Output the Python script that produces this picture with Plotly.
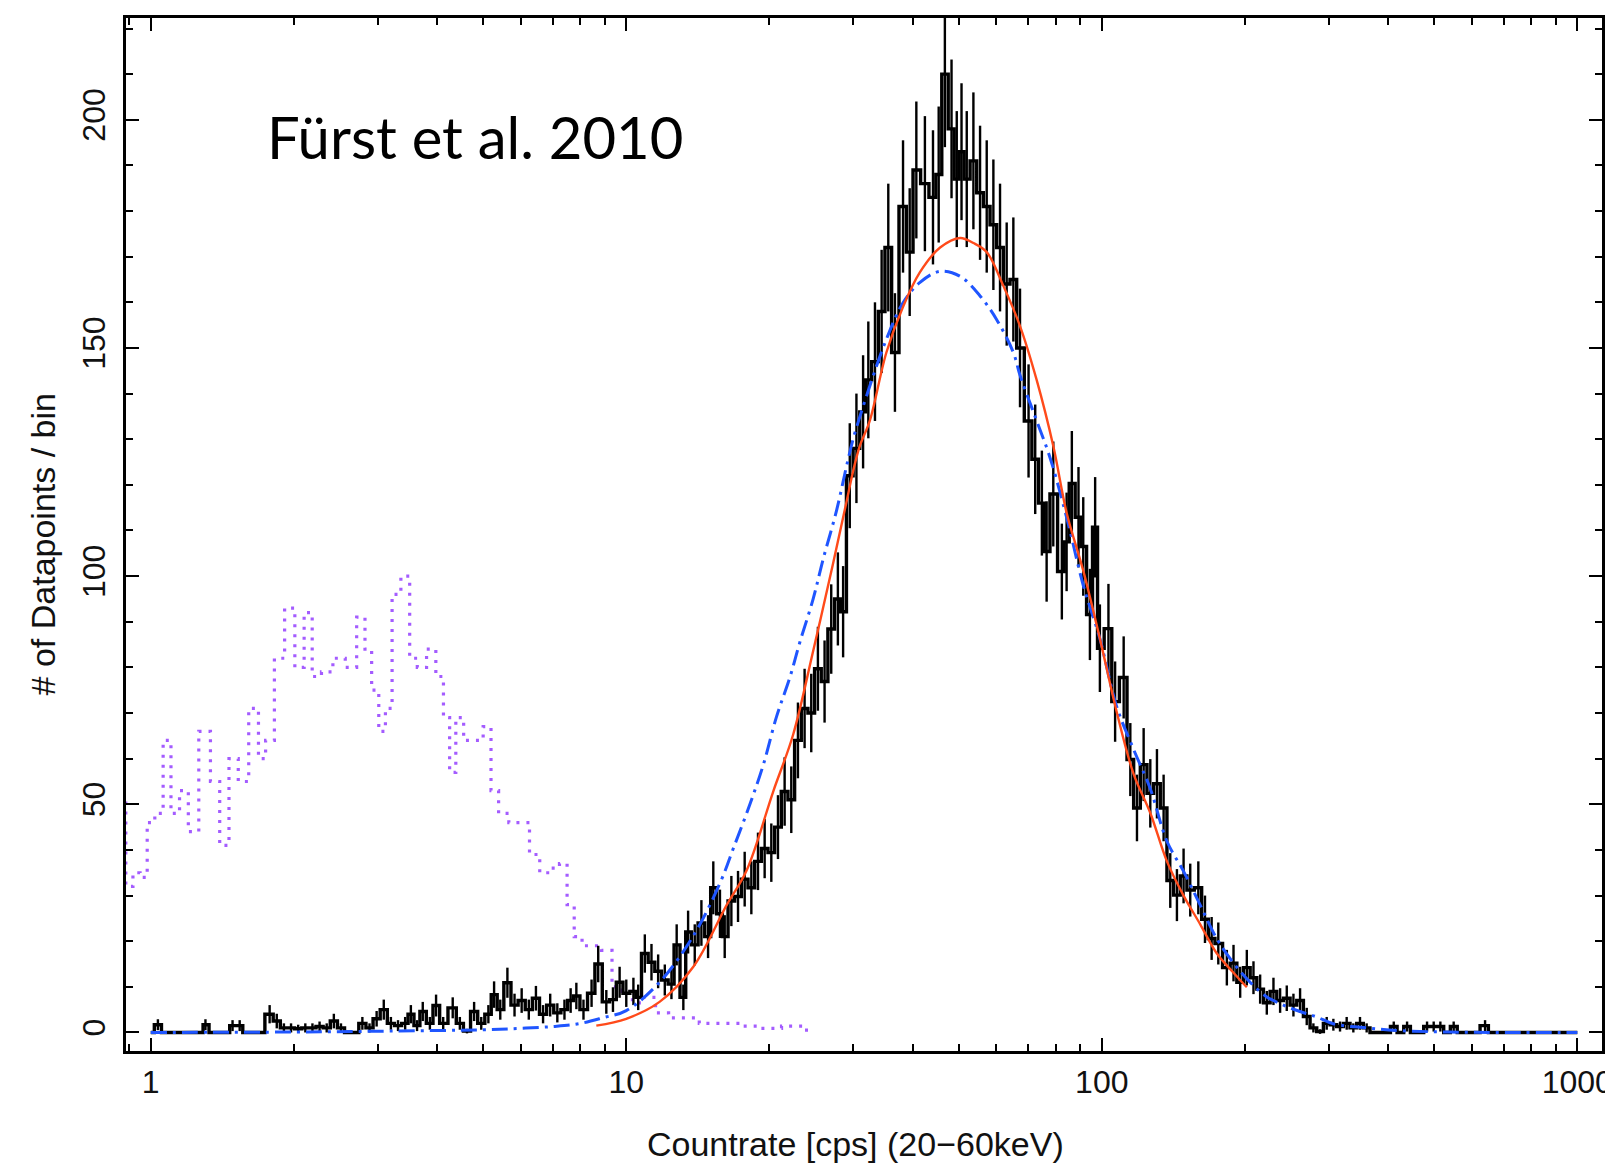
import numpy as np
import plotly.graph_objects as go

# ---------------- data ----------------
# Black: observed histogram (log10 of countrate at bin centre, counts, error)
black_log = [0.000,0.015,0.030,0.045,0.060,0.075,0.090,0.105,0.115,0.130,0.145,0.160,0.172,0.187,0.200,0.215,0.230,
             0.250,0.265,0.280,0.295,0.310,0.325,0.340,0.355,0.370,0.385,0.400,0.415,0.430,0.445,0.460,0.475,0.490,
             0.505,0.520,0.535,0.547,0.560,0.572,0.587,0.600,0.615,0.635,0.650,0.665,0.680,0.695,0.710,0.722,0.735,
             0.750,0.765,0.780,0.795,0.810,0.825,0.840,0.855,0.870,0.883,0.895,0.910,0.927,0.941,0.958,0.972,0.986,
             1.000,1.015,1.025,1.039,1.053,1.067,1.081,1.095,1.106,1.120,1.130,1.144,1.158,1.172,1.183,1.197,1.207,
             1.221,1.235,1.249,1.263,1.277,1.291,1.305,1.319,1.333,1.347,1.361,1.375,1.389,1.403,1.417,1.431,1.445,
             1.456,1.470,1.484,1.498,1.509,1.523,1.537,1.551,1.565,1.582,1.596,1.610,1.628,1.645,1.657,1.670,1.684,
             1.695,1.705,1.716,1.730,1.744,1.758,1.772,1.786,1.800,1.814,1.828,1.846,1.860,1.874,1.884,1.898,1.916,
             1.926,1.937,1.951,1.961,1.975,1.986,1.996,2.014,2.028,2.046,2.060,2.074,2.088,2.102,2.116,2.130,2.144,
             2.158,2.172,2.186,2.203,2.217,2.231,2.245,2.263,2.277,2.291,2.305,2.319,2.333,2.347,2.361,2.375,2.389,
             2.403,2.417,2.431,2.445,2.459,2.473,2.487,2.501,2.515,2.529,2.543,2.557,2.571,2.585,2.600,2.614,2.628,
             2.642,2.656,2.670,2.684,2.698,2.712,2.726,2.740,2.755,2.770,2.785,2.806,2.820,2.835,2.850,2.865,2.880,
             2.895,2.910,2.925,2.940,2.955,2.970,2.985,3.000]
black_counts = [0,1.7,0,0,0,0,0,0,1.7,0,0,0,1.5,1.5,0,0,0,
                4,2.5,1,1,0.8,1,1,1.3,1,2.5,1,0,0,2,1,3,5,
                2,1.5,2,4,1.5,4.6,2,5.9,2,5.4,2,0.3,4.6,2,4,8.3,5,
                10.9,6,7,5,7.5,4,6,4.3,5,7,8,5,8.6,15,6.7,7.2,11,
                8.6,9,7.7,17.3,15.4,13.4,11.5,10.6,19.2,7.7,22,19.2,24,21,31.7,26,21,
                28.8,29.8,33.6,31.7,37.5,40.3,39.4,45,52.8,51,64,71,70,79.7,76.9,88.4,95,
                92.2,122,128,136,143,147,158,172,149,181,171,189,186,183,188,210,198,
                187,193,187,191,184,181,177,172,164,165,150,134,125.6,116,105.4,118,101,
                107.5,120.3,112.9,106.5,91.6,110.7,84.2,88.5,72.5,77.8,59.8,49.2,58.7,52.4,54.5,49.2,33.3,
                30.1,34.3,31.2,31.7,24.8,20.6,19.5,14.2,15.2,11,14.2,12,9.5,6.5,9,7,7.5,
                6,7,3.5,1,0.2,2,1.7,1.3,2,1,2,1,0,0,0,1.3,0,
                1.3,0,0,1.3,1.3,1.3,0,1.3,0,0,0,1.5,0,0,0,0,0,
                0,0,0,0,0,0,0,0]
black_err = [0,1.2,0,0,0,0,0,0,1.2,0,0,0,1.2,1.2,0,0,0,
             2,1.6,1,1,0.9,1,1,1.1,1,1.6,1,0,0,1.4,1,1.7,2.2,
             1.4,1.2,1.4,2,1.2,2.1,1.4,2.4,1.4,2.3,1.4,0.5,2.1,1.4,2,2.9,2.2,
             3.3,2.5,2.7,2.2,2.7,2,2.5,2.1,2.2,2.7,2.9,2.2,3,4,2.6,2.7,3.4,
             3,3,2.8,4.2,4,3.7,3.4,3.3,4.5,2.8,4.7,4.5,5,4.7,5.8,5.3,4.7,
             5.5,5.6,6,5.8,6.3,6.5,6.4,7,7.5,7.3,8.3,8.7,8.6,9.2,9,9.8,10.2,
             10,11.5,12,12.4,12.8,13,13.5,14,13,14.5,14,15,14.8,14.7,14.9,16,15.2,
             14.9,15,14.9,15,14.7,14.5,14.3,14,13.5,13.6,13,12.4,12,11.5,11,11.5,10.5,
             10.8,11.5,11,10.8,10,11,9.6,9.8,8.8,9,8,7.3,8,7.5,7.6,7.3,6,
             5.7,6,5.8,5.8,5.2,4.7,4.6,3.9,4,3.4,3.9,3.6,3.2,2.6,3,2.7,2.8,
             2.5,2.7,1.9,1,0.5,1.4,1.3,1.1,1.4,1,1.4,1,0,0,0,1.1,0,
             1.1,0,0,1.1,1.1,1.1,0,1.1,0,0,0,1.2,0,0,0,0,0,
             0,0,0,0,0,0,0,0]

# Purple dotted histogram (log10 countrate, counts)
purple_log = [-0.060,-0.045,-0.030,-0.015,0.000,0.017,0.035,0.050,0.071,0.087,0.115,0.136,0.154,0.175,0.193,
              0.219,0.234,0.249,0.271,0.292,0.314,0.331,0.348,0.370,0.396,0.422,0.444,0.457,0.472,0.487,0.500,
              0.515,0.537,0.552,0.569,0.591,0.608,0.623,0.634,0.649,0.667,0.688,0.710,0.721,0.742,0.764,0.786,
              0.807,0.829,0.851,0.868,0.883,0.898,0.916,0.937,0.959,0.981,1.002,1.024,1.045,1.078,1.100,1.132,
              1.175,1.219,1.262,1.305,1.348,1.392]
purple_counts = [52,32,35,34,46,48,64,48,53,44,66,55,41,60,55,
                 71,60,64,82,93,80,92,78,79,82,80,91,84,75,66,71,
                 96,100,82,80,84,78,69,57,69,64,64,67,53,48,46,46,
                 39,35,36,37,28,21,19,19,18,10,9,6.5,7.7,4.3,3.2,3.2,
                 2,2,1.4,0.9,1.4,0.5]

# Blue dash-dotted model (log10 countrate, counts)
blue_log = [0.0,0.3,0.5,0.7,0.776,0.846,0.9,0.95,1.0,1.07,1.14,1.197,1.225,1.26,1.288,1.316,1.344,1.365,
            1.393,1.414,1.442,1.463,1.477,1.512,1.547,1.582,1.617,1.660,1.702,1.744,1.779,1.814,1.828,1.856,
            1.891,1.926,1.961,1.996,2.031,2.067,2.102,2.137,2.172,2.207,2.242,2.277,2.312,2.347,2.382,2.417,
            2.452,2.487,2.557,2.627,2.73,2.85,3.0]
blue_counts = [0,0.1,0.3,0.6,0.9,1.3,1.9,3.2,4.8,11,21,32.7,40.3,50,58.6,69.2,77.8,85.5,
               95,103.7,114.3,124,130,141.6,151.9,159.9,164.3,166.8,165.7,161.4,156.2,149,144,136,
               126,112.9,98,86.3,71.5,62,53.4,41.9,35.3,27.9,20.5,15.2,11,7.8,6,4.6,
               3.4,1.9,1,0.4,0.1,0,0]

# Red model (log10 countrate, counts)
red_log = [0.937,1.0,1.07,1.141,1.211,1.253,1.309,1.351,1.393,1.435,1.463,1.477,1.491,1.512,1.547,1.582,
           1.617,1.66,1.702,1.73,1.758,1.793,1.828,1.863,1.898,1.926,1.961,1.996,2.031,2.067,2.102,2.137,
           2.172,2.207,2.242,2.277,2.305]
red_counts = [1.5,3,6.7,14.4,27.9,35.5,52.8,65.3,83.6,102.8,116.2,123,128.5,134,149,159,
              166.5,172,174.1,173,171,163.6,154.8,143,128.5,113.9,101.2,86.3,70.4,56.6,48.1,37.5,
              30,23.7,17.3,13.1,9.9]

x_major = [1, 10, 100, 1000]
x_major_text = ["1", "10", "100", "1000"]
x_minor = [0.9, 2, 3, 4, 5, 6, 7, 8, 9, 20, 30, 40, 50, 60, 70, 80, 90,
           200, 300, 400, 500, 600, 700, 800, 900]
y_major = [0, 50, 100, 150, 200]

def rate(logs):
    return [10 ** v for v in logs]

# ---------------- figure ----------------
fig = go.Figure()

fig.add_trace(go.Scatter(
    x=rate(purple_log), y=purple_counts, mode="lines", line_shape="hvh",
    line=dict(color="#a45cff", width=3.2, dash="3px,7px"), showlegend=False))

fig.add_trace(go.Scatter(
    x=rate(black_log), y=black_counts, mode="lines", line_shape="hvh",
    line=dict(color="black", width=3.4),
    error_y=dict(type="data", array=black_err, color="black", thickness=2.4, width=0),
    showlegend=False))

fig.add_trace(go.Scatter(
    x=rate(blue_log), y=blue_counts, mode="lines", line_shape="spline",
    line=dict(color="#1f55ff", width=3, dash="16px,6px,3px,6px"), showlegend=False))

fig.add_trace(go.Scatter(
    x=rate(red_log), y=red_counts, mode="lines", line_shape="spline",
    line=dict(color="#ff4a1a", width=2.4), showlegend=False))

axis_font = dict(family="Liberation Sans, Arial, sans-serif", size=32, color="#111")

fig.update_xaxes(
    type="log", range=[np.log10(0.887), np.log10(1127)], automargin=False,
    tickmode="array", tickvals=x_major, ticktext=x_major_text,
    ticks="inside", ticklen=13, tickwidth=2, tickcolor="black",
    minor=dict(tickmode="array", tickvals=x_minor, ticks="inside", ticklen=7,
               tickwidth=2, tickcolor="black", showgrid=False),
    showline=True, linewidth=2.5, linecolor="black", mirror="allticks",
    showgrid=False, zeroline=False, tickfont=axis_font, ticklabelstandoff=1)

fig.update_yaxes(
    range=[-4.06, 222.3], automargin=False, tickmode="array", tickvals=y_major,
    ticks="inside", ticklen=13, tickwidth=2, tickcolor="black", tickangle=-90,
    minor=dict(dtick=10, ticks="inside", ticklen=7, tickwidth=2, tickcolor="black", showgrid=False),
    showline=True, linewidth=2.5, linecolor="black", mirror="allticks",
    showgrid=False, zeroline=False, tickfont=axis_font, ticklabelstandoff=5)

fig.add_annotation(text="Fürst et al. 2010", xref="paper", yref="paper",
                   x=0.0943, y=0.8857, xanchor="left", yanchor="middle", showarrow=False,
                   font=dict(family="Lato, sans-serif", size=58, color="black"))

fig.add_annotation(text="Countrate [cps] (20\u221260keV)", xref="paper", yref="paper",
                   x=0.4944, y=-0.0901, xanchor="center", yanchor="middle", showarrow=False,
                   font=dict(family="Liberation Sans, Arial, sans-serif", size=34, color="#111"))

fig.add_annotation(text="# of Datapoints / bin", xref="paper", yref="paper",
                   x=-0.0565, y=0.49, xanchor="center", yanchor="middle", showarrow=False,
                   textangle=-90,
                   font=dict(family="Liberation Sans, Arial, sans-serif", size=34, color="#111"))

# the page body adds an 8 px offset, so the figure is 8 px smaller than the window
fig.update_layout(
    width=1605, height=1158,
    margin=dict(l=118, r=11, t=10, b=115),
    paper_bgcolor="white", plot_bgcolor="white",
    showlegend=False)

fig.write_html("out.html")
